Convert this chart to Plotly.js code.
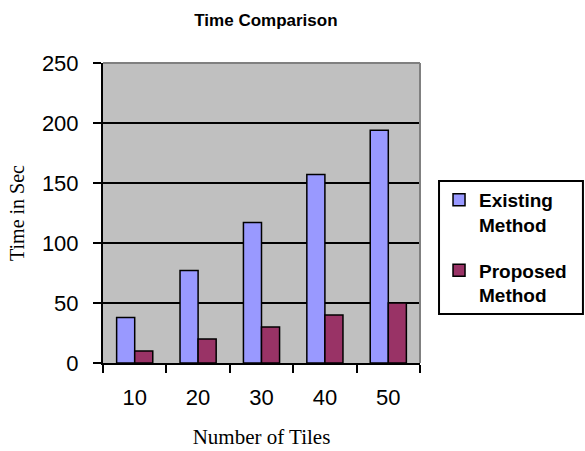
<!DOCTYPE html>
<html>
<head>
<meta charset="utf-8">
<script src="https://cdn.plot.ly/plotly-3.0.1.min.js"></script>
<style>html,body{margin:0;padding:0;background:#fff;}#chart{width:585px;height:451px;}</style>
</head>
<body>
<div id="chart"></div>
<script>
const categories = ['10', '20', '30', '40', '50'];
const existingMethod = [38, 77, 117, 157, 194];
const proposedMethod = [10, 20, 30, 40, 50];
const seriesNames = ['<b>Existing<br>Method</b>', '<b>Proposed<br>Method</b>'];
const yTicks = [0, 50, 100, 150, 200, 250];

const sans = 'Arial, "Liberation Sans", sans-serif';
const serif = '"Times New Roman", "Liberation Serif", serif';

const traces = [
  {
    type: 'bar', x: categories, y: existingMethod, name: seriesNames[0],
    legendgroup: 'a',
    marker: {color: '#9999FF', line: {color: '#000000', width: 1.5}}
  },
  {
    type: 'bar', x: categories, y: proposedMethod, name: seriesNames[1],
    legendgroup: 'b',
    marker: {color: '#993366', line: {color: '#000000', width: 1.5}}
  }
];

const layout = {
  width: 585, height: 451,
  margin: {l: 103, r: 165, t: 63, b: 88, pad: 0, autoexpand: false},
  paper_bgcolor: '#ffffff',
  plot_bgcolor: '#C0C0C0',
  barmode: 'group',
  bargap: 0.43,
  bargroupgap: 0,
  showlegend: true,
  title: {
    text: '<b>Time Comparison</b>',
    font: {family: sans, size: 17, color: '#000'},
    xref: 'paper', x: 0.514, xanchor: 'center',
    yref: 'container', y: 0.955, yanchor: 'middle'
  },
  xaxis: {
    type: 'category',
    tickson: 'boundaries',
    ticks: 'outside', ticklen: 8, tickwidth: 2, tickcolor: '#000',
    showline: true, linecolor: '#000', linewidth: 2,
    showgrid: false, zeroline: false,
    tickfont: {family: sans, size: 22, color: '#000'},
    ticklabelstandoff: 14,
    title: {text: 'Number of Tiles', font: {family: serif, size: 21, color: '#000'}, standoff: 20},
    automargin: false
  },
  yaxis: {
    range: [0, 250],
    tickvals: yTicks,
    ticktext: yTicks.map(String),
    ticks: 'outside', ticklen: 8, tickwidth: 2, tickcolor: '#000',
    showline: true, linecolor: '#000', linewidth: 2,
    showgrid: true, gridcolor: '#000', gridwidth: 1.5,
    zeroline: false,
    tickfont: {family: sans, size: 22, color: '#000'},
    ticklabelstandoff: 10,
    title: {text: 'Time in Sec', font: {family: serif, size: 20, color: '#000'}, standoff: 12},
    automargin: false
  },
  legend: {
    x: 1.06, xanchor: 'left', xref: 'paper',
    y: 0.607, yanchor: 'top', yref: 'paper',
    bgcolor: 'rgba(0,0,0,0)',
    borderwidth: 0,
    font: {family: sans, size: 19, color: '#000'},
    traceorder: 'grouped',
    tracegroupgap: 18,
    valign: 'top'
  },
  shapes: [
    {type: 'line', xref: 'paper', yref: 'paper', x0: 0, x1: 1, y0: 1, y1: 1, line: {color: '#808080', width: 2}, layer: 'above'},
    {type: 'line', xref: 'paper', yref: 'paper', x0: 1, x1: 1, y0: 0, y1: 1, line: {color: '#808080', width: 2}, layer: 'above'},
    {type: 'rect', xref: 'paper', yref: 'paper', x0: 1.06, x1: 1.514, y0: 0.163, y1: 0.607, line: {color: '#000', width: 2}, fillcolor: 'rgba(0,0,0,0)', layer: 'above'}
  ]
};

Plotly.newPlot('chart', traces, layout, {displayModeBar: false, staticPlot: true});
</script>
</body>
</html>
